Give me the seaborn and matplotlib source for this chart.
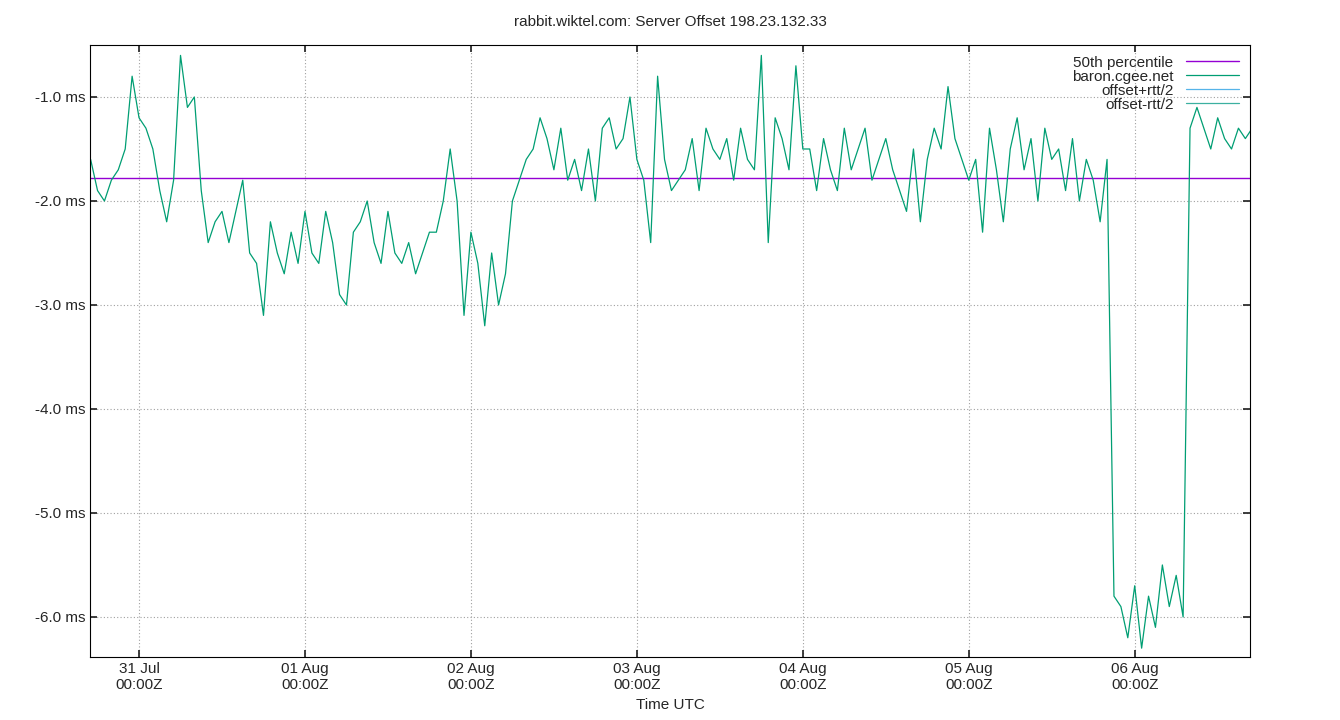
import matplotlib
matplotlib.use("Agg")
import matplotlib.pyplot as plt
import matplotlib.dates as mdates
import seaborn as sns
import pandas as pd
import numpy as np

start = "2025-07-30 17:00"
offset_ms = [
 -1.6,-1.9,-2.0,-1.8,-1.7,-1.5,-0.8,-1.2,
 -1.3,-1.5,-1.9,-2.2,-1.8,-0.6,
 -1.1,-1.0,-1.9,-2.4,-2.2,-2.1,
 -2.4,-2.1,-1.8,-2.5,-2.6,-3.1,
 -2.2,-2.5,-2.7,-2.3,-2.6,-2.1,
 -2.5,-2.6,-2.1,-2.4,-2.9,-3.0,
 -2.3,-2.2,-2.0,-2.4,-2.6,-2.1,
 -2.5,-2.6,-2.4,-2.7,-2.5,-2.3,
 -2.3,-2.0,-1.5,-2.0,-3.1,-2.3,
 -2.6,-3.2,-2.5,-3.0,-2.7,-2.0,
 -1.8,-1.6,-1.5,-1.2,-1.4,-1.7,
 -1.3,-1.8,-1.6,-1.9,-1.5,-2.0,
 -1.3,-1.2,-1.5,-1.4,-1.0,-1.6,
 -1.8,-2.4,-0.8,-1.6,-1.9,-1.8,
 -1.7,-1.4,-1.9,-1.3,-1.5,-1.6,
 -1.4,-1.8,-1.3,-1.6,-1.7,-0.6,
 -2.4,-1.2,-1.4,-1.7,-0.7,-1.5,
 -1.5,-1.9,-1.4,-1.7,-1.9,-1.3,
 -1.7,-1.5,-1.3,-1.8,-1.6,-1.4,
 -1.7,-1.9,-2.1,-1.5,-2.2,-1.6,
 -1.3,-1.5,-0.9,-1.4,-1.6,-1.8,
 -1.6,-2.3,-1.3,-1.7,-2.2,-1.5,
 -1.2,-1.7,-1.4,-2.0,-1.3,-1.6,
 -1.5,-1.9,-1.4,-2.0,-1.6,-1.8,
 -2.2,-1.6,-5.8,-5.9,-6.2,-5.7,
 -6.3,-5.8,-6.1,-5.5,-5.9,-5.6,
 -6.0,-1.3,-1.1,-1.3,-1.5,-1.2,
 -1.4,-1.5,-1.3,-1.4,-1.3,
]
median_ms = -1.78
yticks = [-1.0, -2.0, -3.0, -4.0, -5.0, -6.0]

df = pd.DataFrame({"time": pd.date_range(start, periods=len(offset_ms), freq="h"),
                   "offset": offset_ms})

sns.set_theme(style="white")
plt.rcParams["font.family"] = ["Liberation Sans", "DejaVu Sans"]
fig = plt.figure(figsize=(13.4, 7.2), dpi=100)
ax = fig.add_axes([0.0672, 0.0875, 0.8656, 0.85])

ax.axhline(median_ms, color="#9400d3", lw=1, label="50th percentile")
sns.lineplot(data=df, x="time", y="offset", ax=ax, color="#009e73", lw=0.9, label="baron.cgee.net")
ax.plot([], [], color="#56b4e9", lw=0.9, label="offset+rtt/2")
ax.plot([], [], color="#3cb0a0", lw=0.9, label="offset-rtt/2")

ax.set_xlim(pd.Timestamp("2025-07-30 16:55"), pd.Timestamp("2025-08-06 16:40"))
ax.set_ylim(-6.385, -0.5)
ax.set_yticks(yticks)
ax.set_yticklabels([f"{v:.1f} ms" for v in yticks], fontsize=11)
ax.xaxis.set_major_locator(mdates.DayLocator())
ax.xaxis.set_major_formatter(mdates.DateFormatter("%d %b\n%H:%MZ"))
ax.tick_params(axis="x", labelsize=11)
ax.tick_params(direction="in", length=5, left=True, bottom=True, right=True, top=True)
ax.grid(True, color="#a0a0a0", linestyle=(0, (1, 2)), lw=0.8)
for s in ax.spines.values():
    s.set_color("black"); s.set_linewidth(0.8)
ax.set_xlabel("Time UTC", fontsize=11)
ax.set_ylabel("")
ax.set_title("rabbit.wiktel.com: Server Offset 198.23.132.33", fontsize=11, pad=14)
leg = ax.legend(loc="upper right", frameon=False, markerfirst=False, fontsize=11,
                handlelength=3.5, labelspacing=0.0, borderaxespad=0.3)
for t in leg.get_texts():
    t.set_ha("right")
fig.savefig("out.png", dpi=100)
